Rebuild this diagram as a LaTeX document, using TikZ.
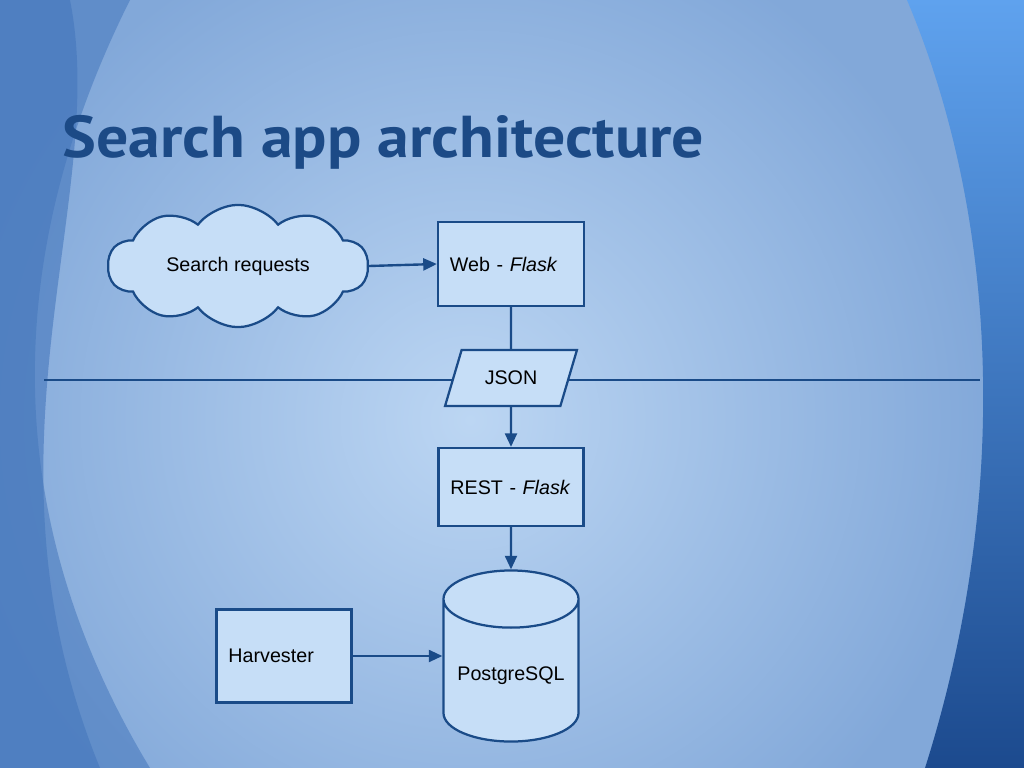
\documentclass[tikz,border=0pt]{standalone}
\usepackage{fontspec}
\setmainfont{Liberation Sans}
\newfontfamily\titlefont{PT Sans}
\usetikzlibrary{positioning,arrows.meta,shapes.geometric,shapes.symbols}
\definecolor{navy}{HTML}{1A4B88}
\definecolor{boxfill}{HTML}{C6DEF7}
\definecolor{titleblue}{HTML}{1C4A86}
\definecolor{bgmid}{HTML}{82A8D9}
\definecolor{bglight}{HTML}{BCD6F3}
\definecolor{sidedark}{HTML}{4577BC}
\definecolor{righttop}{HTML}{5FA2EE}
\definecolor{rightbot}{HTML}{1C4A8E}

\begin{document}
\begin{tikzpicture}[x=0.025cm, y=-0.025cm,
    boxStyle/.style={rectangle, draw=navy, fill=boxfill, line width=1.6pt, font=\fontsize{14}{16}\selectfont, align=left, inner xsep=0.3cm},
    shapeStyle/.style={draw=navy, fill=boxfill, line width=1.6pt, font=\fontsize{14}{16}\selectfont},
    arrowStyle/.style={-{Triangle[length=0.34cm,width=0.3cm]}, line width=1.7pt, draw=navy},
    lineStyle/.style={line width=1.7pt, draw=navy}
]
    \useasboundingbox (0,0) rectangle (1024,768);

    % slide background
    \begin{scope}
        \clip (0,0) rectangle (1024,768);
        \fill[bgmid] (0,0) rectangle (1024,768);
        \shade[inner color=bglight, outer color=bgmid] (470,420) circle (520);
        \fill[sidedark, opacity=0.55] (0,0) -- (130,0) .. controls (0,260) and (0,520) .. (150,768) -- (0,768) -- cycle;
        \fill[sidedark, opacity=0.6] (0,0) -- (70,0) .. controls (110,200) and (-30,450) .. (100,768) -- (0,768) -- cycle;
        \shade[top color=righttop, bottom color=rightbot] (907,0) .. controls (1000,220) and (1010,500) .. (925,768) -- (1024,768) -- (1024,0) -- cycle;
    \end{scope}

    \node[anchor=base west, inner sep=0, font=\titlefont\bfseries\fontsize{42}{46}\selectfont, text=titleblue] (title) at (62,158) {\scalebox{1.08}[1]{Search app architecture}};

    % divider behind the JSON step
    \coordinate (divLeft) at (44,380);
    \coordinate (divRight) at (980,380);
    \draw[lineStyle] (divLeft) -- (divRight);

    \node[shapeStyle, cloud, cloud puffs=10, cloud puff arc=105, aspect=2.3, minimum width=6.5cm, minimum height=2.9cm] (requests) at (238,266) {Search requests};

    \node[boxStyle, text width=3.05cm, minimum height=2.1cm] (web) at (511,264) {Web - \textit{Flask}};

    \node[shapeStyle, trapezium, trapezium left angle=66, trapezium right angle=114, trapezium stretches=true, minimum width=3.3cm, minimum height=1.4cm] (json) at (511,378) {JSON};

    \node[boxStyle, text width=3.025cm, minimum height=1.95cm] (rest) at (511,487) {REST - \textit{Flask}};

    \node[shapeStyle, cylinder, shape border rotate=90, aspect=0.49, minimum width=3.375cm, minimum height=4.275cm, anchor=shape center] (db) at (511,656) {PostgreSQL};

    \node[boxStyle, text width=2.775cm, minimum height=2.325cm] (harvester) at (284,656) {Harvester};

    % connectors
    \draw[arrowStyle] (requests.east) -- (web.west);
    \draw[lineStyle] (web.south) -- (json.north);
    \draw[arrowStyle] (json.south) -- (rest.north);
    \draw[arrowStyle] (rest.south) -- (db.north);
    \draw[arrowStyle] (harvester.east) -- (harvester.east -| db.west);
\end{tikzpicture}
\end{document}
